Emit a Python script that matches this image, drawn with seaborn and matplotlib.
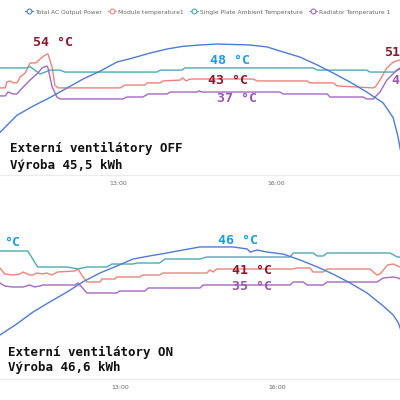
import numpy as np
import pandas as pd
import matplotlib
matplotlib.use("Agg")
import matplotlib.pyplot as plt
import seaborn as sns
from matplotlib.lines import Line2D

sns.set_theme(style="white")
plt.rcParams['font.family'] = ['DejaVu Sans']

# ---------------- data (hours of day, kW, degC) ----------------
series_names = ["Total AC Output Power", "Module temperature1",
                "Single Plate Ambient Temperature", "Radiator Temperature 1"]
tick_hours = [13, 16]
tick_labels = ["13:00", "16:00"]

# top panel: external fans OFF
top_power_t = [10.76, 11.08, 11.39, 11.71, 12.03, 12.34, 12.66, 12.98, 13.28, 13.61, 13.93,
               14.23, 14.56, 14.88, 15.18, 15.50, 15.83, 16.13, 16.45, 16.78, 17.08, 17.40,
               17.72, 18.03, 18.22, 18.31, 18.38]
top_power_kw = [2.75, 3.85, 4.45, 5.0, 5.61, 6.2, 6.7, 7.29, 7.55, 7.87, 8.13,
                8.3, 8.39, 8.45, 8.42, 8.39, 8.26, 7.94, 7.61, 7.10, 6.58, 6.00,
                5.35, 4.65, 3.7, 2.5, 1.2]

top_amb_t = [10.76, 11.27, 11.33, 11.52, 11.71, 11.90, 11.99, 13.74, 13.80, 14.21, 14.27,
             16.70, 16.78, 17.72, 17.78, 18.24, 18.35]
top_amb_c = [48.1, 48.1, 48.7, 45.3, 47.1, 47.1, 46.2, 46.2, 47.1, 47.1, 48.1,
             48.1, 47.1, 47.1, 46.2, 46.2, 47.6]

top_mod_t = [10.76, 10.86, 10.89, 10.95, 11.01, 11.08, 11.14, 11.24, 11.33, 11.43, 11.46,
             11.56, 11.65, 11.67, 11.75, 11.80, 11.86, 13.04, 13.13, 13.51, 13.55, 13.80,
             13.85, 14.18, 14.23, 14.29, 14.37, 15.56, 15.64, 16.59, 16.64, 17.08, 17.16,
             17.84, 17.88, 17.97, 18.10, 18.22, 18.35]
top_mod_c = [38.9, 38.9, 41.6, 42.1, 41.2, 41.2, 43.9, 45.8, 50.4, 50.4, 50.8,
             53.1, 54.5, 54.5, 48.5, 40.2, 38.9, 38.9, 40.2, 40.2, 41.2, 41.2,
             42.1, 42.5, 43.5, 42.1, 43.0, 43.0, 42.1, 42.1, 41.2, 41.2, 39.8,
             38.9, 39.3, 42.5, 48.1, 50.8, 51.8]

top_rad_t = [10.76, 10.86, 10.91, 11.01, 11.08, 11.20, 11.33, 11.46, 11.56, 11.65, 11.67,
             11.75, 11.84, 11.90, 13.09, 13.17, 13.47, 13.57, 13.93, 13.99, 14.50, 14.54,
             14.59, 16.07, 16.13, 16.97, 17.02, 17.65, 17.72, 17.84, 17.97, 18.10, 18.29, 18.35]
top_rad_c = [35.2, 35.2, 37.0, 36.1, 36.1, 39.3, 42.5, 45.3, 48.1, 49.0, 48.1,
             39.3, 34.7, 33.8, 33.8, 34.7, 34.7, 36.1, 36.1, 37.0, 37.0, 37.5,
             37.0, 37.0, 36.1, 36.1, 34.7, 34.7, 33.8, 33.8, 37.0, 42.5, 47.1, 48.1]

# bottom panel: external fans ON
bot_power_t = [10.71, 11.03, 11.34, 11.66, 11.99, 12.29, 12.62, 12.94, 13.25, 13.57, 13.90,
               14.20, 14.53, 14.85, 15.16, 15.43, 15.49, 15.62, 15.81, 16.12, 16.44, 16.77,
               17.07, 17.40, 17.72, 18.03, 18.22, 18.32, 18.40]
bot_power_kw = [2.84, 3.55, 4.32, 4.97, 5.61, 6.26, 6.84, 7.29, 7.74, 7.94, 8.13,
                8.32, 8.52, 8.52, 8.52, 8.39, 8.19, 8.32, 8.19, 8.06, 7.68, 7.23,
                6.77, 6.19, 5.55, 4.71, 4.13, 3.61, 2.8]

bot_amb_t = [10.71, 11.24, 11.43, 11.99, 12.20, 12.37, 12.75, 12.85, 13.25, 13.33, 13.76,
             13.86, 14.53, 14.66, 16.25, 16.31, 16.69, 16.77, 16.88, 16.96, 18.16, 18.30, 18.35]
bot_amb_c = [48.6, 48.6, 42.2, 42.2, 41.4, 42.2, 42.2, 43.4, 43.4, 43.8, 43.8,
             45.4, 45.4, 46.2, 46.2, 47.8, 47.8, 46.6, 46.6, 47.8, 47.8, 46.2, 46.2]

bot_mod_t = [10.71, 10.80, 10.95, 11.09, 11.15, 11.28, 11.34, 11.41, 11.53, 11.60, 11.70,
             11.81, 12.14, 12.20, 12.27, 12.37, 12.62, 12.66, 12.90, 12.94, 13.38, 13.44,
             13.76, 13.82, 14.66, 14.72, 14.78, 14.85, 16.31, 16.37, 16.63, 16.69, 16.88,
             16.96, 17.78, 17.84, 17.91, 17.97, 18.11, 18.22, 18.35]
bot_mod_c = [41.8, 39.4, 39.0, 39.4, 40.2, 39.0, 39.0, 39.8, 39.4, 39.8, 39.0,
             40.2, 40.6, 41.4, 39.0, 36.2, 36.2, 37.4, 37.4, 38.2, 38.2, 39.0,
             39.0, 39.8, 39.8, 41.0, 40.2, 41.4, 41.4, 41.8, 41.8, 40.2, 40.2,
             41.4, 41.4, 40.2, 39.0, 39.4, 43.0, 43.4, 42.2]

bot_rad_t = [10.71, 10.80, 10.95, 11.15, 11.28, 11.37, 11.47, 11.53, 12.14, 12.20, 12.27,
             12.37, 12.94, 13.00, 13.48, 13.54, 14.53, 14.59, 16.25, 16.31, 16.50, 16.58,
             16.88, 16.96, 17.91, 18.03, 18.22, 18.32, 18.35]
bot_rad_c = [35.8, 34.6, 34.2, 34.2, 35.0, 34.2, 34.6, 35.0, 35.0, 35.8, 34.2,
             31.8, 31.8, 32.6, 32.6, 33.8, 33.8, 35.0, 35.0, 36.2, 36.2, 35.0,
             35.0, 36.2, 36.2, 37.8, 38.2, 37.8, 37.4]

colors = {"power": "#4f7bd4", "module": "#e8857b", "ambient": "#4fa9b4", "radiator": "#a468c2"}
lab_red, lab_cyan, lab_purple = "#8a1a2e", "#1f9dd8", "#9a55aa"

fig = plt.figure(figsize=(4, 4), dpi=100)
fig.patch.set_facecolor("white")


def panel(rect, xlim, tlim, temps, pt, pkw, labels, texts, text_pos):
    ax = fig.add_axes(rect)
    axp = ax.twinx()
    for (t, c), key in zip(temps, ["module", "ambient", "radiator"]):
        sns.lineplot(x=t, y=c, ax=ax, color=colors[key], lw=1.0, sort=False, estimator=None)
    sns.lineplot(x=pt, y=pkw, ax=axp, color=colors["power"], lw=1.0, sort=False, estimator=None)
    ax.set_xlim(*xlim)
    ax.set_ylim(*tlim)
    axp.set_ylim(0, 10)
    for a in (ax, axp):
        a.set_facecolor("none")
        for s in ["top", "left", "right"]:
            a.spines[s].set_visible(False)
        a.spines["bottom"].set_color("#ececec")
        a.spines["bottom"].set_linewidth(0.8)
        a.set_yticks([])
        a.set_ylabel("")
        a.grid(False)
    ax.set_xticks(tick_hours)
    ax.set_xticklabels(tick_labels, fontsize=4.5, color="#666666")
    ax.tick_params(axis="x", length=0, pad=4)
    ax.set_xlabel("")
    for (s, x, y, col) in labels:
        ax.text(x, y, s, color=col, fontsize=9.5, fontweight="bold",
                family="DejaVu Sans Mono", ha="left", va="center", clip_on=False)
    for s, (fx, fy) in zip(texts, text_pos):
        fig.text(fx, fy, s, fontsize=9, fontweight="bold", family="DejaVu Sans Mono",
                 color="#111111", ha="left", va="center")
    return ax


panel([0, 0.5625, 1, 0.3875], (10.76, 18.35), (-1.24, 70.19),
      [(top_mod_t, top_mod_c), (top_amb_t, top_amb_c), (top_rad_t, top_rad_c)],
      top_power_t, top_power_kw,
      [("54 °C", 11.39, 59.6, lab_red), ("48 °C", 14.75, 51.3, lab_cyan),
       ("43 °C", 14.71, 42.5, lab_red), ("37 °C", 14.88, 33.8, lab_purple),
       ("51", 18.04, 55.0, lab_red), ("4", 18.18, 42.1, lab_purple)],
      ["Externí ventilátory OFF", "Výroba 45,5 kWh"],
      [(0.025, 1 - 148 / 400), (0.025, 1 - 165 / 400)])

panel([0, 0.0525, 1, 0.3875], (10.71, 18.35), (-2.6, 59.4),
      [(bot_mod_t, bot_mod_c), (bot_amb_t, bot_amb_c), (bot_rad_t, bot_rad_c)],
      bot_power_t, bot_power_kw,
      [("°C", 10.78, 52.2, lab_cyan), ("46 °C", 14.87, 53.0, lab_cyan),
       ("41 °C", 15.14, 41.0, lab_red), ("35 °C", 15.14, 34.6, lab_purple)],
      ["Externí ventilátory ON", "Výroba 46,6 kWh"],
      [(0.02, 1 - 352 / 400), (0.02, 1 - 368 / 400)])

handles = [Line2D([], [], color=colors[k], lw=0.8, marker="o", ms=3.5,
                  markerfacecolor="white", markeredgewidth=0.8)
           for k in ["power", "module", "ambient", "radiator"]]
fig.legend(handles, series_names, loc="center", bbox_to_anchor=(0.52, 0.97), ncol=4,
           frameon=False, fontsize=4.3, handlelength=1.3, handletextpad=0.4,
           columnspacing=1.0, labelcolor="#666666")

fig.savefig("out.png", dpi=100, facecolor="white")
